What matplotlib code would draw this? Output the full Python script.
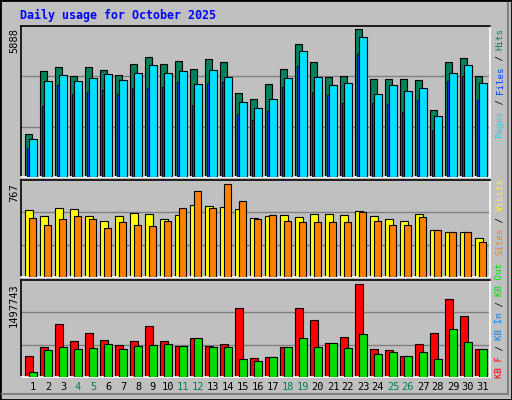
import matplotlib
matplotlib.use("Agg")
import matplotlib.pyplot as plt
from matplotlib.patches import Rectangle
from matplotlib.lines import Line2D

days = list(range(1, 32))
weekend_days = [4, 5, 11, 12, 18, 19, 25, 26]
hits = [1668, 4130, 4286, 3934, 4286, 4169, 3973, 4403, 4677, 4403, 4520, 4208, 4599, 4481, 3270, 3036,
        3622, 4208, 5185, 4481, 3895, 3934, 5771, 3817, 3817, 3817, 3778, 2606, 4481, 4638, 3934]
pages_cyan = [1500, 3727, 3962, 3727, 3845, 4001, 3766, 4040, 4352, 4040, 4118, 3610, 4157, 3884, 2907, 2672,
              3024, 3845, 4899, 3884, 3571, 3649, 5446, 3219, 3571, 3337, 3454, 2360, 4040, 4352, 3649]
files_blue = [1149, 2751, 3571, 3219, 3298, 3376, 3219, 3454, 3454, 3493, 3688, 2790, 3649, 3688, 2438, 2204,
              2555, 3493, 4313, 3298, 3180, 2868, 4782, 2868, 2829, 2516, 2985, 1852, 3727, 3923, 2985]
visits = [527, 479, 543, 535, 479, 439, 479, 503, 495, 455, 487, 567, 559, 551, 535, 463,
          479, 487, 471, 495, 495, 487, 519, 479, 455, 439, 495, 375, 359, 359, 311]
sites = [463, 415, 455, 479, 455, 391, 431, 415, 407, 439, 543, 679, 543, 735, 599, 455,
         487, 439, 431, 431, 431, 431, 511, 439, 415, 415, 471, 375, 352, 359, 280]
kb_f = [331086, 457214, 819832, 551810, 677938, 567576, 488746, 551810, 788300, 551810, 472980, 599108,
        472980, 504512, 1072088, 299554, 315320, 457214, 1072088, 882896, 520278, 614874, 1434706, 425682,
        409916, 331086, 504512, 677938, 1198216, 945960, 425682]
kb_out = [78830, 409916, 457214, 425682, 441448, 504512, 425682, 472980, 488746, 504512, 472980, 599108,
          457214, 457214, 283788, 252256, 315320, 457214, 599108, 457214, 520278, 441448, 662172, 362618,
          378384, 331086, 378384, 283788, 740002, 536044, 425682]
max_hits, max_visits, max_kb = 5888, 767, 1497743
title = "Daily usage for October 2025"

W, H = 512, 400
fig = plt.figure(figsize=(W / 100, H / 100), dpi=100, facecolor="#C0C0C0")
mono = "DejaVu Sans Mono"

def fx(px): return px / W
def fy(py): return 1 - py / H

# outer frame
fig.add_artist(Rectangle((0, 0), 1, 1, transform=fig.transFigure, fill=False, ec="black", lw=2))
fig.add_artist(Line2D([fx(2), fx(508)], [fy(394), fy(394)], transform=fig.transFigure, color="#808080", lw=1.5))
fig.add_artist(Line2D([fx(508), fx(508)], [fy(3), fy(394)], transform=fig.transFigure, color="#808080", lw=1.5))

fig.text(fx(20), fy(15), title, color="#0000FF", fontsize=8.4, fontweight="bold", family=mono, va="center")

def panel(top, bot, ymax):
    ax = fig.add_axes([fx(21), fy(bot), fx(490) - fx(21), fy(top) - fy(bot)])
    ax.set_facecolor("#C0C0C0")
    ax.set_xlim(-4 / 15, 31)
    ax.set_ylim(0, ymax * 1.0)
    for g in (ymax / 3, 2 * ymax / 3):
        ax.axhline(g, color="#808080", lw=1, zorder=0)
    ax.set_xticks([]); ax.set_yticks([])
    for s in ("left", "top"):
        ax.spines[s].set_color("black")
    for s in ("right", "bottom"):
        ax.spines[s].set_color("white")
    for s in ax.spines.values():
        s.set_linewidth(1.2)
    return ax

x0 = [d - 1 for d in days]
u = 1 / 15

ax1 = panel(26, 177, max_hits)
ax1.bar([x + 0 * u for x in x0], hits, width=7 * u, align="edge", color="#00805C", ec="black", lw=0.8, zorder=2)
ax1.bar([x + 1.5 * u for x in x0], files_blue, width=3 * u, align="edge", color="#0040FF", ec="black", lw=0.6, zorder=3)
ax1.bar([x + 4 * u for x in x0], pages_cyan, width=7.5 * u, align="edge", color="#00E0FF", ec="black", lw=0.8, zorder=4)

ax2 = panel(180, 277, max_visits)
ax2.bar([x + 0 * u for x in x0], visits, width=8 * u, align="edge", color="#FFFF00", ec="black", lw=0.8, zorder=2)
ax2.bar([x + 4 * u for x in x0], sites, width=7 * u, align="edge", color="#FF8000", ec="black", lw=0.8, zorder=3)

ax3 = panel(280, 377, max_kb)
ax3.bar([x + 0 * u for x in x0], kb_f, width=7.5 * u, align="edge", color="#FF0000", ec="black", lw=0.8, zorder=2)
ax3.bar([x + 4 * u for x in x0], kb_out, width=7.5 * u, align="edge", color="#00E000", ec="black", lw=0.8, zorder=3)

for d, x in zip(days, x0):
    ax3.text(x + 8 * u, -0.1, str(d), transform=ax3.get_xaxis_transform(), ha="center", va="center",
             fontsize=7.5, family=mono, color="#00805C" if d in weekend_days else "black")

for txt, ytop in ((str(max_hits), 28), (str(max_visits), 183), (str(max_kb), 283)):
    fig.text(fx(14), fy(ytop), txt, rotation=90, ha="center", va="top", fontsize=7.5, family=mono)

pitch = 5.5
def vlabel(ytop, parts):
    full = "".join(p for p, _ in parts)
    n = len(full)
    y = ytop + n * pitch
    for p, c in parts:
        fig.text(fx(500), fy(y), p, rotation=90, ha="center", va="bottom", fontsize=6.6, family=mono, color=c)
        y -= len(p) * pitch

vlabel(28, [("Pages", "#00E0FF"), (" / ", "black"), ("Files", "#0040FF"), (" / ", "black"), ("Hits", "#00805C")])
vlabel(178, [("Sites", "#FF8000"), (" / ", "black"), ("Visits", "#FFFF00")])
vlabel(263, [("KB F", "#FF0000"), (" / ", "black"), ("KB In", "#0080FF"), (" / ", "black"), ("KB Out", "#00E000")])

fig.savefig("out.png", dpi=100, facecolor=fig.get_facecolor())
